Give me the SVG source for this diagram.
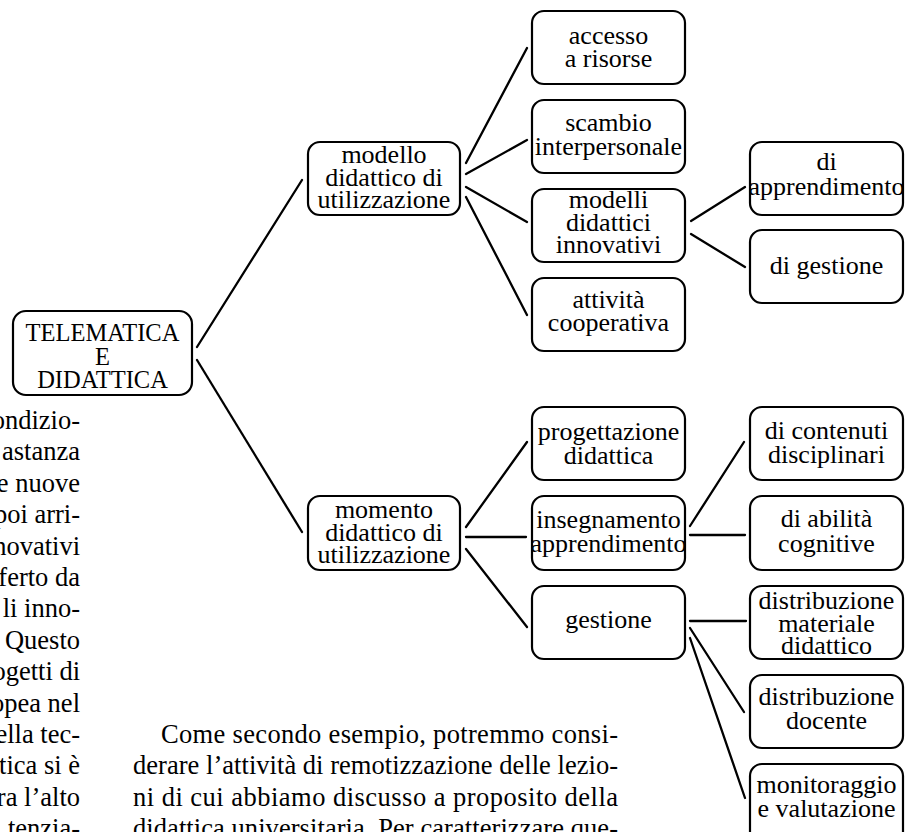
<svg xmlns="http://www.w3.org/2000/svg" width="911" height="832" viewBox="0 0 911 832">
<style>
.box{fill:#fff;stroke:#000;stroke-width:2.2}
.nt{font-family:"Liberation Serif","Times New Roman",serif;font-size:26px;fill:#000;text-anchor:middle}
.rt{font-size:24.5px}
.bt{font-family:"Liberation Serif","Times New Roman",serif;font-size:26.5px;fill:#000}
.lc{text-anchor:end}
#connectors line{stroke:#000;stroke-width:2.3;stroke-linecap:round}
</style>
<rect width="911" height="832" fill="#fff"/>
<g id="connectors">
<line x1="197" y1="347" x2="302" y2="180"/>
<line x1="197" y1="360" x2="302" y2="532"/>
<line x1="466" y1="163" x2="527" y2="48"/>
<line x1="466" y1="174" x2="527" y2="140"/>
<line x1="466" y1="187" x2="527" y2="222"/>
<line x1="466" y1="197" x2="527" y2="315"/>
<line x1="691" y1="221" x2="745" y2="187"/>
<line x1="691" y1="234" x2="745" y2="267"/>
<line x1="466" y1="527" x2="527" y2="442"/>
<line x1="466" y1="537" x2="526" y2="537"/>
<line x1="466" y1="549" x2="527" y2="627"/>
<line x1="690" y1="526" x2="744" y2="442"/>
<line x1="690" y1="535" x2="745" y2="535"/>
<line x1="690" y1="621" x2="746" y2="621"/>
<line x1="690" y1="628" x2="744" y2="712"/>
<line x1="690" y1="638" x2="745" y2="798"/>
</g>
<g id="n-root"><rect class="box" x="13" y="311" width="179" height="84" rx="13"/>
<text class="nt rt"><tspan x="102.5" y="341">TELEMATICA</tspan><tspan x="102.5" y="364.5">E</tspan><tspan x="102.5" y="388">DIDATTICA</tspan></text></g>
<g id="n-modello"><rect class="box" x="308" y="142" width="152" height="73" rx="12"/>
<text class="nt"><tspan x="384" y="163">modello</tspan><tspan x="384" y="185.5">didattico di</tspan><tspan x="384" y="208">utilizzazione</tspan></text></g>
<g id="n-momento"><rect class="box" x="308" y="496" width="152" height="74" rx="12"/>
<text class="nt"><tspan x="384" y="518">momento</tspan><tspan x="384" y="540.5">didattico di</tspan><tspan x="384" y="563">utilizzazione</tspan></text></g>
<g id="n-accesso"><rect class="box" x="532" y="11" width="153" height="73" rx="12"/>
<text class="nt"><tspan x="608.5" y="44">accesso</tspan><tspan x="608.5" y="66.5">a risorse</tspan></text></g>
<g id="n-scambio"><rect class="box" x="532" y="100" width="153" height="73" rx="12"/>
<text class="nt"><tspan x="608.5" y="131">scambio</tspan><tspan x="608.5" y="155">interpersonale</tspan></text></g>
<g id="n-modelli"><rect class="box" x="532" y="189" width="153" height="73" rx="12"/>
<text class="nt"><tspan x="608.5" y="208">modelli</tspan><tspan x="608.5" y="230.5">didattici</tspan><tspan x="608.5" y="253">innovativi</tspan></text></g>
<g id="n-attivita"><rect class="box" x="532" y="278" width="153" height="73" rx="12"/>
<text class="nt"><tspan x="608.5" y="308">attività</tspan><tspan x="608.5" y="331">cooperativa</tspan></text></g>
<g id="n-progettazione"><rect class="box" x="532" y="407" width="153" height="73" rx="12"/>
<text class="nt"><tspan x="608.5" y="440">progettazione</tspan><tspan x="608.5" y="464">didattica</tspan></text></g>
<g id="n-insegnamento"><rect class="box" x="532" y="496" width="153" height="74" rx="12"/>
<text class="nt"><tspan x="608.5" y="528">insegnamento</tspan><tspan x="608.5" y="552">apprendimento</tspan></text></g>
<g id="n-gestione"><rect class="box" x="532" y="586" width="153" height="73" rx="12"/>
<text class="nt"><tspan x="608.5" y="628">gestione</tspan></text></g>
<g id="n-apprendimento"><rect class="box" x="750" y="142" width="153" height="73" rx="12"/>
<text class="nt"><tspan x="826.5" y="170">di</tspan><tspan x="826.5" y="195">apprendimento</tspan></text></g>
<g id="n-digestione"><rect class="box" x="750" y="230" width="153" height="73" rx="12"/>
<text class="nt"><tspan x="826.5" y="274">di gestione</tspan></text></g>
<g id="n-contenuti"><rect class="box" x="750" y="407" width="153" height="73" rx="12"/>
<text class="nt"><tspan x="826.5" y="439">di contenuti</tspan><tspan x="826.5" y="463">disciplinari</tspan></text></g>
<g id="n-abilita"><rect class="box" x="750" y="496" width="153" height="74" rx="12"/>
<text class="nt"><tspan x="826.5" y="527">di abilità</tspan><tspan x="826.5" y="552">cognitive</tspan></text></g>
<g id="n-materiale"><rect class="box" x="750" y="586" width="153" height="73" rx="12"/>
<text class="nt"><tspan x="826.5" y="609">distribuzione</tspan><tspan x="826.5" y="631.5">materiale</tspan><tspan x="826.5" y="654">didattico</tspan></text></g>
<g id="n-docente"><rect class="box" x="750" y="675" width="153" height="73" rx="12"/>
<text class="nt"><tspan x="826.5" y="705">distribuzione</tspan><tspan x="826.5" y="729">docente</tspan></text></g>
<g id="n-monitoraggio"><rect class="box" x="750" y="764" width="153" height="80" rx="12"/>
<text class="nt"><tspan x="826.5" y="793">monitoraggio</tspan><tspan x="826.5" y="817">e valutazione</tspan></text></g>
<g id="body-left">
<text class="bt lc" x="80" y="429">ondizio-</text>
<text class="bt lc" x="80" y="460.4">astanza</text>
<text class="bt lc" x="80" y="491.8">e  nuove</text>
<text class="bt lc" x="80" y="523.2">poi arri-</text>
<text class="bt lc" x="80" y="554.6">novativi</text>
<text class="bt lc" x="80" y="586">ferto da</text>
<text class="bt lc" x="80" y="617.4">li inno-</text>
<text class="bt lc" x="80" y="648.8">Questo</text>
<text class="bt lc" x="80" y="680.2">ogetti di</text>
<text class="bt lc" x="80" y="711.6">opea nel</text>
<text class="bt lc" x="80" y="743">ella tec-</text>
<text class="bt lc" x="80" y="774.4">tica si è</text>
<text class="bt lc" x="80" y="805.8">ra l’alto</text>
<text class="bt lc" x="80" y="837.2">tenzia-</text>
</g>
<g id="body-right">
<text class="bt" x="161" y="743" textLength="457">Come secondo esempio, potremmo consi-</text>
<text class="bt" x="133" y="774.4" textLength="485">derare l’attività di remotizzazione delle lezio-</text>
<text class="bt" x="133" y="805.8" textLength="485">ni di cui abbiamo discusso a proposito della</text>
<text class="bt" x="133" y="837.2" textLength="485">didattica universitaria. Per caratterizzare que-</text>
</g>
</svg>
